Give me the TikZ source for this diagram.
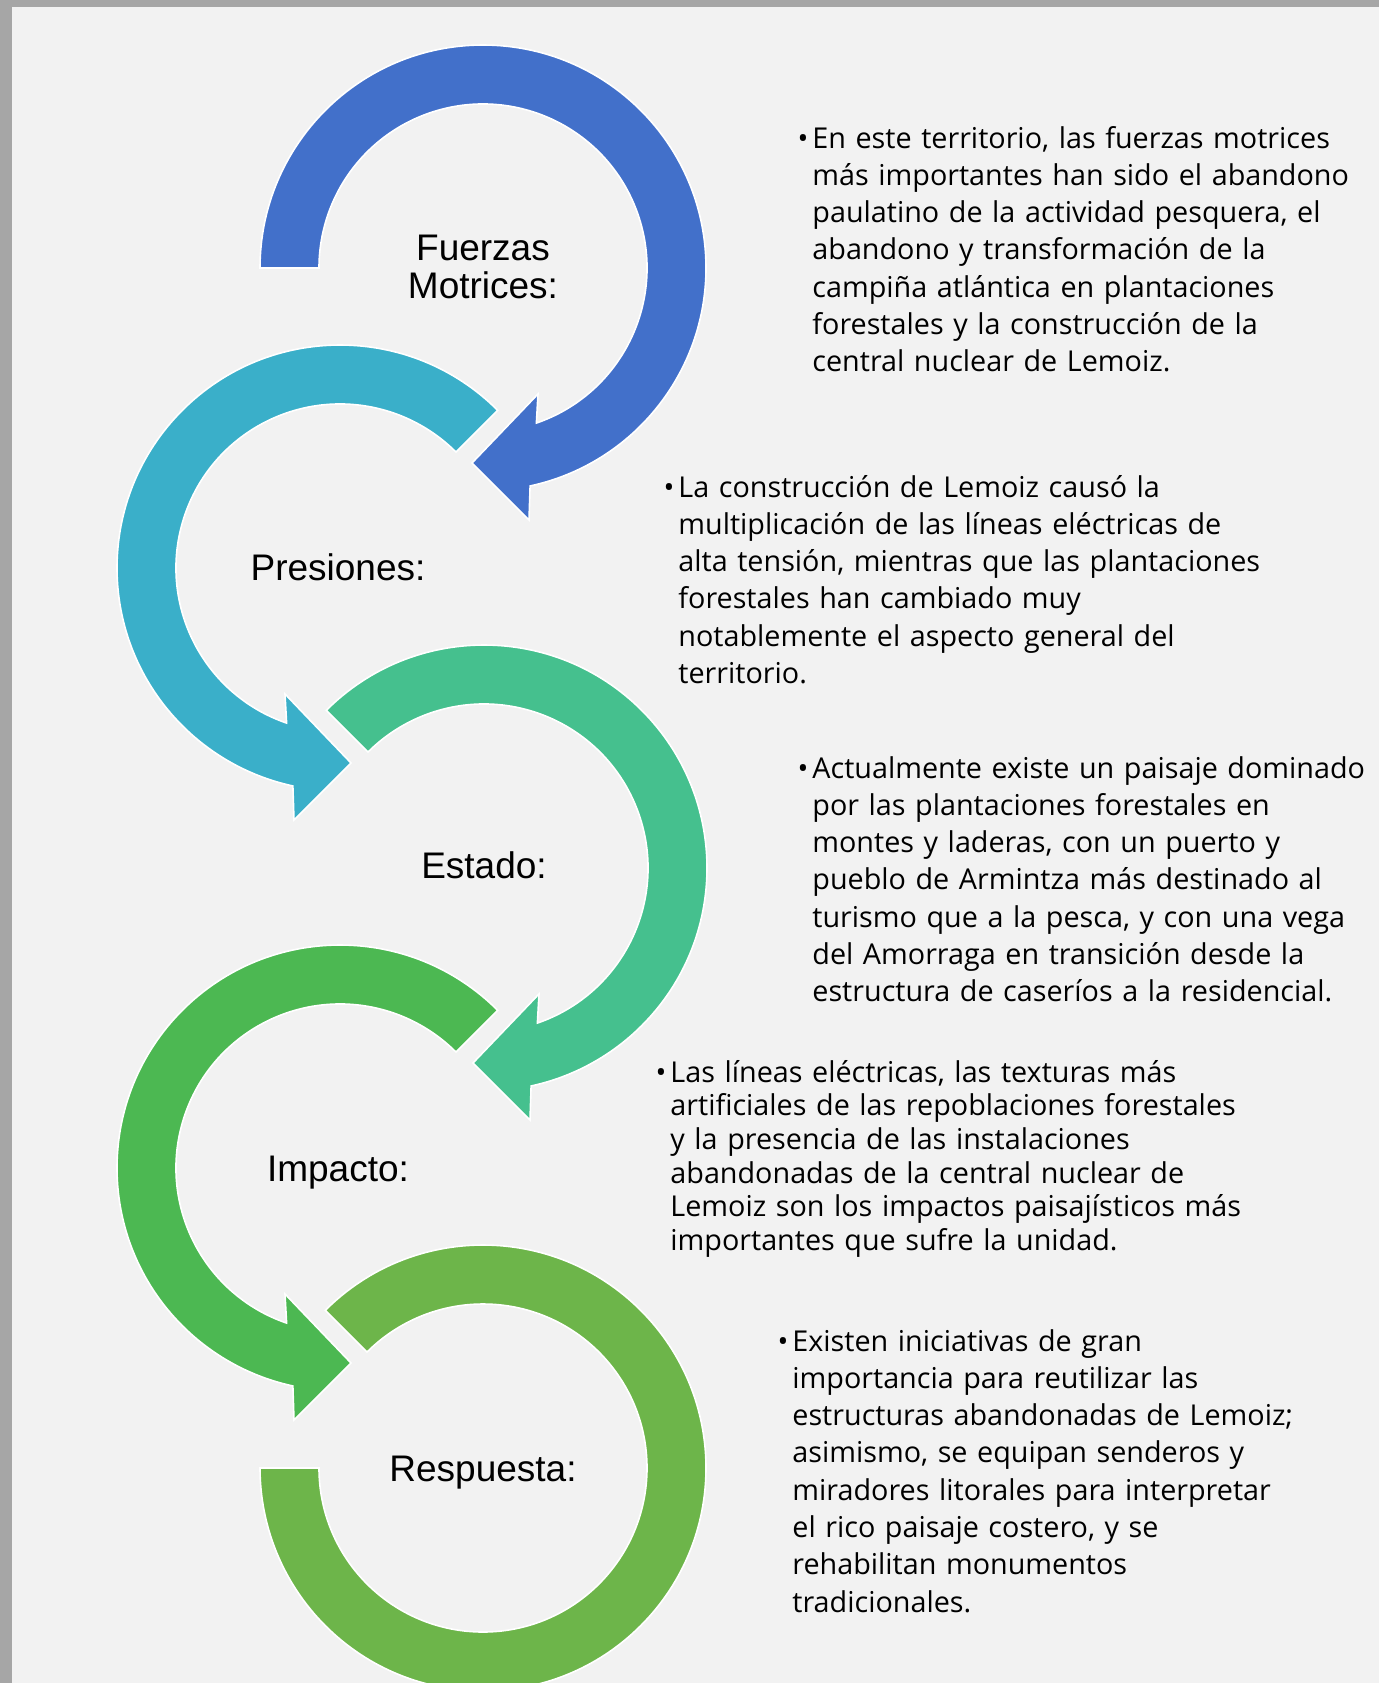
\documentclass[tikz,border=0pt]{standalone}
\usepackage{fontspec}
\setmainfont{Open Sans}
\newfontfamily\labfont{Liberation Sans}
\definecolor{bordergray}{HTML}{A6A6A6}
\definecolor{bgcol}{HTML}{F2F2F2}
\definecolor{cA}{HTML}{4270CA}
\definecolor{cB}{HTML}{3AAFC9}
\definecolor{cC}{HTML}{45C08E}
\definecolor{cD}{HTML}{4CB852}
\definecolor{cE}{HTML}{6DB54A}
\tikzset{
  ringarrow/.pic={
    \fill[pic actions] (#1:223) arc[start angle=#1, end angle=437.8, radius=223]
      -- (46,252) -- (-11,195) -- (55,126) -- (431:164)
      arc[start angle=431, end angle=#1, radius=164] -- cycle;
  },
  ringopen/.pic={
    \fill[pic actions] (225:223) arc[start angle=225, end angle=540, radius=223]
      -- (540:164) arc[start angle=540, end angle=225, radius=164] -- cycle;
  },
  labtxt/.style={font=\labfont\fontsize{18.5}{19}\selectfont, inner sep=0pt, text=black},
  bodytxt/.style={anchor=base west, inner sep=0pt, text width=330pt, align=left,
    font=\fontsize{14.37}{18.65}\selectfont, text=black},
  bodysmall/.style={bodytxt, font=\fontsize{14.37}{16.85}\selectfont}
}
\newcommand{\blt}{\llap{•\hspace{2pt}}}
\begin{document}
\begin{tikzpicture}[x=0.5pt,y=-0.5pt]
\clip (0,0) rectangle (1379,1683);
\useasboundingbox (0,0) rectangle (1379,1683);
\fill[bordergray] (0,0) rectangle (1379,1683);
\fill[bgcol] (12,7) rectangle (1379,1683);

\coordinate (C1) at (483,268);
\coordinate (C2) at (340,568);
\coordinate (C3) at (484,868);
\coordinate (C4) at (340,1168);
\coordinate (C5) at (483,1468);

\pic[fill=cA, draw=white, line width=0.8pt] at (C1) {ringarrow=180};
\pic[fill=cB, draw=white, line width=0.8pt, xscale=-1] at (C2) {ringarrow=225};
\pic[fill=cC, draw=white, line width=0.8pt] at (C3) {ringarrow=225};
\pic[fill=cD, draw=white, line width=0.8pt, xscale=-1] at (C4) {ringarrow=225};
\pic[fill=cE, draw=white, line width=0.8pt] at (C5) {ringopen};

\node[labtxt, anchor=base, text width=150pt, align=center] (lab1) at (483,260) {Fuerzas\\Motrices:};
\node[labtxt, anchor=base] (lab2) at (338,580) {Presiones:};
\node[labtxt, anchor=base] (lab3) at (484,878) {Estado:};
\node[labtxt, anchor=base] (lab4) at (338,1181) {Impacto:};
\node[labtxt, anchor=base] (lab5) at (483,1481) {Respuesta:};

\node[bodytxt] (t1) at (812,148) {\blt En este territorio, las fuerzas motrices\\
más importantes han sido el abandono\\
paulatino de la actividad pesquera, el\\
abandono y transformación de la\\
campiña atlántica en plantaciones\\
forestales y la construcción de la\\
central nuclear de Lemoiz.};

\node[bodytxt] (t2) at (678,497) {\blt La construcción de Lemoiz causó la\\
multiplicación de las líneas eléctricas de\\
alta tensión, mientras que las plantaciones\\
forestales han cambiado muy\\
notablemente el aspecto general del\\
territorio.};

\node[bodytxt] (t3) at (812,778) {\blt Actualmente existe un paisaje dominado\\
por las plantaciones forestales en\\
montes y laderas, con un puerto y\\
pueblo de Armintza más destinado al\\
turismo que a la pesca, y con una vega\\
del Amorraga en transición desde la\\
estructura de caseríos a la residencial.};

\node[bodysmall] (t4) at (670,1082) {\blt Las líneas eléctricas, las texturas más\\
artificiales de las repoblaciones forestales\\
y la presencia de las instalaciones\\
abandonadas de la central nuclear de\\
Lemoiz son los impactos paisajísticos más\\
importantes que sufre la unidad.};

\node[bodytxt] (t5) at (792,1351) {\blt Existen iniciativas de gran\\
importancia para reutilizar las\\
estructuras abandonadas de Lemoiz;\\
asimismo, se equipan senderos y\\
miradores litorales para interpretar\\
el rico paisaje costero, y se\\
rehabilitan monumentos\\
tradicionales.};
\end{tikzpicture}
\end{document}
